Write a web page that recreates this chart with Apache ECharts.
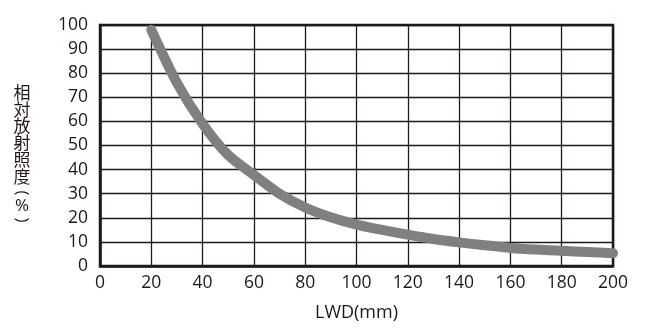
<!DOCTYPE html>
<html>
<head>
<meta charset="utf-8">
<script src="https://cdn.jsdelivr.net/npm/echarts@6/dist/echarts.min.js"></script>
<style>
html,body{margin:0;padding:0;background:#fff;}
#c{width:645px;height:330px;}
</style>
</head>
<body>
<div id="c"></div>
<script>
var lwd = [20, 30, 40, 50, 60, 70, 80, 90, 100, 110, 120, 130, 140, 150, 160, 170, 180, 190, 200];
var irradiance = [98, 76, 59, 46, 37.8, 30, 24.3, 20.2, 17.2, 15, 13, 11.2, 9.8, 8.6, 7.5, 6.8, 6.3, 5.8, 5.3];
var xTicks = {min: 0, max: 200, interval: 20};
var yTicks = {min: 0, max: 100, interval: 10};
var yName = ['相', '対', '放', '射', '照', '度'];
var yUnit = ['(', '%', ')'];
var xName = 'LWD(mm)';

var ink = '#231815';
var font = '"Open Sans","Noto Sans CJK JP",sans-serif';
var cjk = '"Noto Sans CJK JP",sans-serif';

var pts = lwd.map(function (x, i) { return [x, irradiance[i]]; });

var chart = echarts.init(document.getElementById('c'), null, {renderer: 'canvas'});
chart.setOption({
  animation: false,
  backgroundColor: '#fff',
  grid: {left: 100, right: 32, top: 25, bottom: 64, show: true, borderColor: ink, borderWidth: 2.5, backgroundColor: 'transparent'},
  xAxis: {
    type: 'value', min: xTicks.min, max: xTicks.max, interval: xTicks.interval,
    name: xName, nameLocation: 'middle', nameGap: 38,
    nameTextStyle: {color: ink, fontSize: 18, fontFamily: font},
    axisLine: {show: true, lineStyle: {color: ink, width: 2.5}},
    axisTick: {show: false},
    axisLabel: {color: ink, fontSize: 17.5, fontFamily: font, margin: 8},
    splitLine: {show: true, lineStyle: {color: ink, width: 1.3}}
  },
  yAxis: {
    type: 'value', min: yTicks.min, max: yTicks.max, interval: yTicks.interval,
    axisLine: {show: true, lineStyle: {color: ink, width: 2.5}},
    axisTick: {show: false},
    axisLabel: {color: ink, fontSize: 17.5, fontFamily: font, margin: 12},
    splitLine: {show: true, lineStyle: {color: ink, width: 1.3}}
  },
  graphic: [{
    type: 'text', x: 22, y: 84,
    style: {
      text: yName.join('\n'), font: '17px ' + cjk, lineHeight: 16.8,
      fill: ink, align: 'center', verticalAlign: 'top'
    }
  }, {
    type: 'text', x: 22, y: 193, rotation: -Math.PI / 2,
    style: {text: yUnit[0], font: '17px ' + font, fill: ink, align: 'center', verticalAlign: 'middle'}
  }, {
    type: 'text', x: 22, y: 206.5,
    style: {text: yUnit[1], font: '17px ' + font, fill: ink, align: 'center', verticalAlign: 'middle'}
  }, {
    type: 'text', x: 22, y: 220, rotation: -Math.PI / 2,
    style: {text: yUnit[2], font: '17px ' + font, fill: ink, align: 'center', verticalAlign: 'middle'}
  }],
  series: [{
    type: 'line', data: pts, symbol: 'none', smooth: 0.25,
    lineStyle: {color: '#808080', width: 10, cap: 'round', join: 'round'}
  }]
});
</script>
</body>
</html>
